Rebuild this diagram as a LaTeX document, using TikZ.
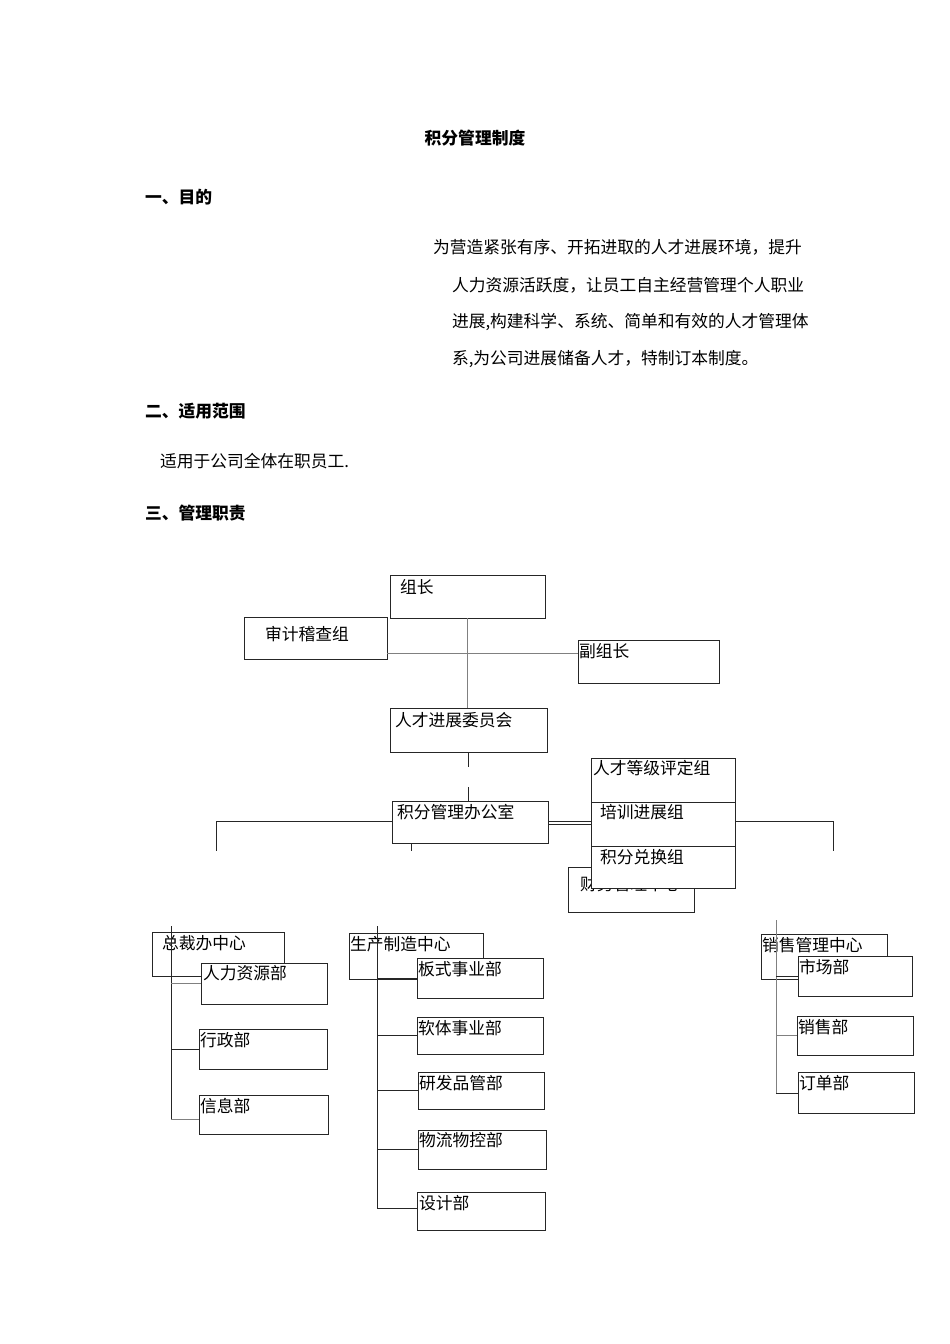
\documentclass[tikz,border=0pt]{standalone}
\usepackage{fontspec}
\setmainfont{Noto Sans CJK SC}
\usetikzlibrary{fit}
\newcommand\mkbox[5]{\node[bx, fit={(#2,#3)(#4,#5)}] (#1) {};}
\begin{document}
\begin{tikzpicture}[x=0.6263pt,y=-0.6263pt,
  every node/.style={font=\fontsize{10.5}{12}\selectfont, inner sep=0pt, outer sep=0pt},
  bx/.style={draw=black!85, fill=white, line width=0.55pt},
  lbl/.style={anchor=west},
  hd/.style={anchor=west, font=\fontsize{10.5}{12}\selectfont\bfseries},
  ln/.style={draw=black!85, line width=0.55pt},
  gln/.style={draw=black!50, line width=0.6pt}]

\fill[white] (0,0) rectangle (950,1344);
\useasboundingbox (0,0) rectangle (950,1344);

% ---------- text ----------
\node[font=\fontsize{10.5}{12}\selectfont\bfseries] (title) at (475,138) {积分管理制度};
\node[hd] (h1) at (145,197) {一、目的};
\node[lbl] (p1) at (433,247) {为营造紧张有序、开拓进取的人才进展环境，提升};
\node[lbl] (p2) at (452,285) {人力资源活跃度，让员工自主经营管理个人职业};
\node[lbl] (p3) at (452,322) {进展,构建科学、系统、简单和有效的人才管理体};
\node[lbl] (p4) at (452,359) {系,为公司进展储备人才，特制订本制度。};
\node[hd] (h2) at (145,411) {二、适用范围};
\node[lbl] (s2) at (160,461) {适用于公司全体在职员工.};
\node[hd] (h3) at (145,513) {三、管理职责};

% ---------- top boxes ----------
\mkbox{zz}{390}{575}{545}{618}
\node[lbl] (zz-t) at (400,587) {组长};
\mkbox{sj}{244}{617}{387}{659}
\node[lbl] (sj-t) at (265,634) {审计稽查组};
\mkbox{fz}{578}{640}{719}{683}
\node[lbl] (fz-t) at (579,651) {副组长};
\mkbox{wyh}{390}{708}{547}{752}
\node[lbl] (wyh-t) at (395,720) {人才进展委员会};
\mkbox{bgs}{392}{801}{548}{843}
\node[lbl] (bgs-t) at (397,812) {积分管理办公室};

% ---------- top connectors ----------
\coordinate (hy) at (0,653);
\draw[gln] (zz.south) -- (zz.south |- wyh.north);
\draw[gln] (sj.east |- hy) -- (fz.west |- hy);
\draw[ln] (wyh.south) -- ++(0,15);
\draw[ln] (bgs.north -| wyh.south) -- ++(0,-14);
\coordinate (lt) at (216,851);
\coordinate (rt) at (833,851);
\coordinate (hl) at (0,821);
\draw[ln] (bgs.west |- hl) -| (lt);
\draw[ln] (bgs.south -| 411,0) -- ++(0,8);

% ---------- finance box (partly hidden) ----------
\mkbox{cw}{568}{867}{694}{912}
\node[lbl] (cw-t) at (580,884) {财务管理中心};

% ---------- groups ----------
\mkbox{rp}{591}{758}{735}{802}
\node[lbl] (rp-t) at (593,768) {人才等级评定组};
\mkbox{px}{591}{802}{735}{846}
\node[lbl] (px-t) at (600,812) {培训进展组};
\mkbox{jf}{591}{846}{735}{888}
\node[lbl] (jf-t) at (600,857) {积分兑换组};
\draw[ln] (bgs.east |- hl) -- (px.west |- hl);
\draw[ln] ([yshift=-2pt]bgs.east |- hl) -- ([yshift=-2pt]px.west |- hl);
\draw[ln] (px.east |- hl) -| (rt);

% ---------- centres ----------
\mkbox{zcb}{152}{932}{284}{976}
\node[lbl] (zcb-t) at (162,943) {总裁办中心};
\mkbox{sczz}{349}{933}{483}{979}
\node[lbl] (sczz-t) at (350,944) {生产制造中心};
\mkbox{xsgl}{761}{934}{887}{979}
\node[lbl] (xsgl-t) at (762,945) {销售管理中心};

% ---------- trunk lines ----------
\coordinate (zcTop) at (171,926);
\coordinate (zcBot) at (171,1119);
\coordinate (scTop) at (377,926);
\coordinate (scBot) at (377,1208);
\coordinate (xsTop) at (776,920);
\coordinate (xsBot) at (776,1093);
\draw[ln] (zcTop) -- (zcBot);
\draw[ln] (scTop) -- (scBot);
\draw[gln] (xsTop) -- (xsBot);

% ---------- departments ----------
\mkbox{rlzy}{201}{963}{327}{1004}
\node[lbl] (rlzy-t) at (203,973) {人力资源部};
\mkbox{xz}{199}{1029}{327}{1069}
\node[lbl] (xz-t) at (200,1040) {行政部};
\mkbox{xx}{199}{1095}{328}{1134}
\node[lbl] (xx-t) at (200,1106) {信息部};

\mkbox{bs}{417}{958}{543}{998}
\node[lbl] (bs-t) at (418,969) {板式事业部};
\mkbox{rt2}{417}{1017}{543}{1054}
\node[lbl] (rt2-t) at (418,1028) {软体事业部};
\mkbox{yf}{418}{1072}{544}{1109}
\node[lbl] (yf-t) at (419,1083) {研发品管部};
\mkbox{wl}{418}{1130}{546}{1169}
\node[lbl] (wl-t) at (419,1140) {物流物控部};
\mkbox{sjb}{417}{1192}{545}{1230}
\node[lbl] (sjb-t) at (419,1203) {设计部};

\mkbox{sc}{798}{956}{912}{996}
\node[lbl] (sc-t) at (799,967) {市场部};
\mkbox{xs}{797}{1016}{913}{1055}
\node[lbl] (xs-t) at (798,1027) {销售部};
\mkbox{dd}{798}{1072}{914}{1113}
\node[lbl] (dd-t) at (799,1083) {订单部};

% ---------- branches ----------
\draw[gln] (zcTop |- rlzy.west) -- (rlzy.west);
\draw[ln] (zcTop |- xz.west) -- (xz.west);
\draw[gln] (zcBot) -- (zcBot -| xx.west);

\draw[ln] (scTop |- bs.west) -- (bs.west);
\draw[ln] (scTop |- rt2.west) -- (rt2.west);
\draw[ln] (scTop |- yf.west) -- (yf.west);
\draw[ln] (scTop |- wl.west) -- (wl.west);
\draw[ln] (scBot) -- (scBot -| sjb.west);

\draw[ln] (xsTop |- sc.west) -- (sc.west);
\draw[gln] (xsTop |- xs.west) -- (xs.west);
\draw[ln] (xsBot) -- (xsBot -| dd.west);
\end{tikzpicture}
\end{document}
